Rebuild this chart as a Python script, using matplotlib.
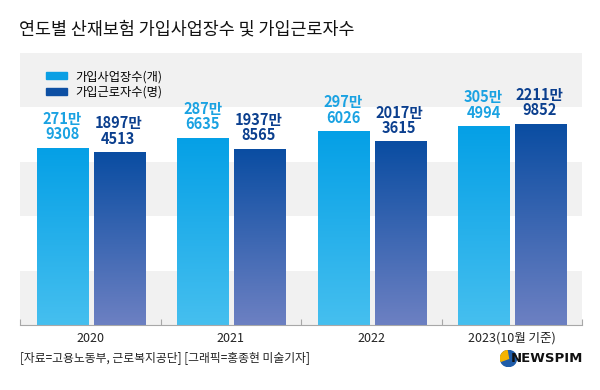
import numpy as np
import matplotlib
matplotlib.use('Agg')
import matplotlib.pyplot as plt
from matplotlib.patches import Rectangle, Patch, Wedge, Circle

plt.rcParams['font.family'] = ['Noto Sans CJK KR', 'DejaVu Sans']

years = ['2020', '2021', '2022', '2023(10월 기준)']
# 가입사업장수 (만 개), 가입근로자수 (만 명)
sites = [271.9308, 287.6635, 297.6026, 305.4994]
workers = [1897.4513, 1937.8565, 2017.3615, 2211.9852]
site_labels = ['271만\n9308', '287만\n6635', '297만\n6026', '305만\n4994']
worker_labels = ['1897만\n4513', '1937만\n8565', '2017만\n3615', '2211만\n9852']

light_top, light_bot = '#05A0E6', '#45BFEF'
dark_top, dark_bot = '#0A4DA2', '#6C80C2'

fig = plt.figure(figsize=(6, 3.9), dpi=100)
ax = fig.add_axes([20/600, 65/390, 562/600, 272/390])
ax2 = ax.twinx()

# 배경 띠
for i in range(5):
    c = '#F1F1F1' if i % 2 == 0 else 'white'
    ax.add_patch(Rectangle((0, i*0.2), 1, 0.2, transform=ax.transAxes,
                           color=c, zorder=0, lw=0))

x = np.arange(len(years))
w = 0.363
off = 0.2


def grad_bars(a, xs, vals, top, bot):
    bars = a.bar(xs, vals, w, color='none', zorder=2)
    cmap = matplotlib.colors.LinearSegmentedColormap.from_list('g', [bot, top])
    for b in bars:
        x0 = b.get_x()
        h = b.get_height()
        img = a.imshow(np.linspace(0, 1, 100).reshape(-1, 1), cmap=cmap,
                       extent=[x0, x0 + b.get_width(), 0, h], origin='lower',
                       aspect='auto', zorder=2)
        img.set_clip_path(b)
    return bars


grad_bars(ax, x - off, sites, light_top, light_bot)
grad_bars(ax2, x + off + 0.008, workers, dark_top, dark_bot)

for xi, v, t in zip(x - off, sites, site_labels):
    ax.annotate(t, (xi, v), xytext=(0, 4), textcoords='offset points',
                ha='center', va='bottom', fontsize=10.5, fontweight='bold',
                color='#1AA2E2', linespacing=0.95, zorder=5)
for xi, v, t in zip(x + off, workers, worker_labels):
    ax2.annotate(t, (xi, v), xytext=(0, 4), textcoords='offset points',
                 ha='center', va='bottom', fontsize=10.5, fontweight='bold',
                 color='#0B3F8E', linespacing=0.95, zorder=5)

ax.set_xlim(-0.5, 3.5)
ax.set_ylim(0, 418)
ax2.set_ylim(0, 2990)

for a in (ax, ax2):
    for s in ['top', 'left', 'right']:
        a.spines[s].set_visible(False)
    a.set_yticks([])
ax.spines['bottom'].set_color('#A8A8A8')
ax2.spines['bottom'].set_visible(False)
ax.set_xticks(x)
ax.set_xticklabels(years, fontsize=9, color='#222222')
ax.tick_params(axis='x', length=0, pad=5)
ax.set_xticks([-0.5, 0.5, 1.5, 2.5, 3.5], minor=True)
ax.tick_params(axis='x', which='minor', direction='in', length=4,
               color='#A8A8A8', width=0.8)

handles = [Patch(color='#0A9FE4', label='가입사업장수(개)'),
           Patch(color='#0D4FA3', label='가입근로자수(명)')]
ax2.legend(handles=handles, loc='upper left', bbox_to_anchor=(0.038, 0.955),
           frameon=False, fontsize=8.8, handlelength=1.7, handleheight=0.55,
           handletextpad=0.7, labelspacing=0.2, borderaxespad=0)

fig.text(19/600, 1 - 30/390, '연도별 산재보험 가입사업장수 및 가입근로자수',
         fontsize=12.5, color='#111111', va='center', ha='left')
fig.text(20/600, 1 - 358/390, '[자료=고용노동부, 근로복지공단] [그래픽=홍종현 미술기자]',
         fontsize=8.5, color='#222222', va='center', ha='left')

# 로고
lax = fig.add_axes([500/600, 1 - 367/390, 17/600, 17/390])
lax.set_aspect('equal')
lax.add_patch(Circle((0, 0), 1, color='#1F5CA9'))
lax.add_patch(Wedge((0, 0), 1, 100, 200, color='#F4B400'))
lax.set_xlim(-1.05, 1.05)
lax.set_ylim(-1.05, 1.05)
lax.axis('off')
fig.text(583/600, 1 - 358/390, 'NEWSPIM', fontsize=9.5, fontweight='bold',
         color='#111111', va='center', ha='right', family='DejaVu Sans')

fig.savefig('out.png', dpi=100)
